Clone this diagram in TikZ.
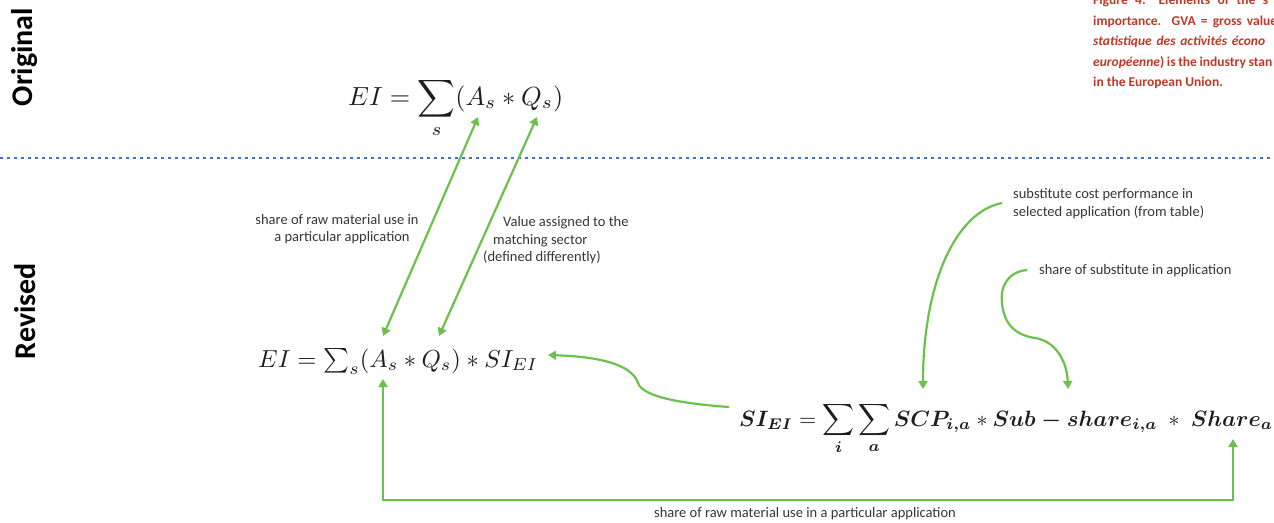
\documentclass[tikz,border=0pt]{standalone}
\usepackage{fontspec}
\setmainfont{Carlito}
\usepackage{amsmath}
\usepackage{graphicx}
\usetikzlibrary{arrows.meta}
\definecolor{arrowgreen}{RGB}{108,192,76}
\definecolor{dotblue}{RGB}{68,114,196}
\definecolor{capred}{RGB}{188,58,42}
\definecolor{labgray}{RGB}{55,55,55}
\definecolor{eqblack}{RGB}{30,30,30}
\tikzset{
  gline/.style={draw=arrowgreen, line width=2.2pt},
  tipA/.tip={Triangle[length=8pt,width=9pt]},
  lab/.style={font=\fontsize{14.5}{17}\selectfont, text=labgray, inner sep=0pt},
  captext/.style={font=\fontsize{13.5}{16}\selectfont\bfseries, text=capred, inner sep=0pt, anchor=base west},
  sidetext/.style={font=\fontsize{30}{32}\selectfont\bfseries, text=black, rotate=90, inner sep=0pt},
  eqtext/.style={text=eqblack, inner sep=0pt, anchor=base west}
}
\begin{document}
\begin{tikzpicture}[x=1pt,y=-1pt]
\useasboundingbox (0,0) rectangle (1274,522);
\fill[white] (0,0) rectangle (1274,522);
\clip (0,0) rectangle (1274,522);

% side labels
\node[sidetext] (orig) at (25,57) {Original};
\node[sidetext] (rev) at (25,311) {Revised};

% dotted separator
\coordinate (dl) at (0,158);
\coordinate (dr) at (1274,158);
\draw[dotblue, line width=2.8pt, dash pattern=on 2.8pt off 4.2pt] (dl) -- (dr);

% caption (clipped at right edge, as in the reference)
\node[captext] (c1) at (1093,4.5) {\makebox[175pt][s]{Figure 4: Elements of the s}};
\node[captext] (c2) at (1093,25) {\makebox[184pt][s]{importance. GVA = gross value}};
\node[captext] (c3) at (1093,45.5) {\makebox[172pt][s]{\itshape statistique des activités écono}};
\node[captext] (c4) at (1093,66) {\makebox[179pt][s]{\itshape européenne\upshape) is the industry stan}};
\node[captext] (c5) at (1093,86.5) {in the European Union.};

% equations
\node[eqtext] (eqo) at (348,105) {\resizebox{215pt}{!}{$\displaystyle EI = \sum_{s}(A_s \ast Q_s)$}};
\node[eqtext] (eqr) at (258,367) {\resizebox{280pt}{!}{$EI = \sum_{s}(A_s \ast Q_s) \ast SI_{EI}$}};
\node[eqtext] (eqs) at (739,426) {\resizebox{534pt}{!}{$\displaystyle \boldsymbol{SI_{EI}} = \sum_{\boldsymbol{i}}\sum_{\boldsymbol{a}}\boldsymbol{SCP_{i,a}} \ast \boldsymbol{Sub - share_{i,a}}\; \ast\; \boldsymbol{Share_{a}}$}};

% labels
\node[lab, anchor=base] (l1a) at (337,224) {share of raw material use in};
\node[lab, anchor=base] (l1b) at (342,241) {a particular application};
\node[lab, anchor=base west] (l2a) at (503,226) {Value assigned to the};
\node[lab, anchor=base west] (l2b) at (493,244) {matching sector};
\node[lab, anchor=base west] (l2c) at (483,261) {(defined differently)};
\node[lab, anchor=base west] (l3a) at (1013,198) {substitute cost performance in};
\node[lab, anchor=base west] (l3b) at (1013,216) {selected application (from table)};
\node[lab, anchor=base west] (l4) at (1039,274) {share of substitute in application};
\node[lab, anchor=base] (l5) at (805,517) {share of raw material use in a particular application};

% arrow end points
\coordinate (oA) at (478,117);
\coordinate (oQ) at (537,117);
\coordinate (rA) at (383,336);
\coordinate (rQ) at (439,336);
\coordinate (rSI) at (548,355);
\coordinate (sSI) at (729,407);
\coordinate (sSCP) at (923,389);
\coordinate (sSub) at (1068,389);
\coordinate (rAb) at (383,379);
\coordinate (sSh) at (1233,439);
\coordinate (l3s) at (1002,203);
\coordinate (l4s) at (1027,270);

% connectors
\draw[gline, tipA-tipA] (rA) -- (oA);
\draw[gline, tipA-tipA] (rQ) -- (oQ);
\draw[gline, -tipA] (sSI) .. controls (688,404) and (643,398) .. (638,383)
      .. controls (633,368) and (610,357) .. (rSI);
\draw[gline, -tipA] (l3s) .. controls (955,212) and (923,285) .. (sSCP);
\draw[gline, -tipA] (l4s) .. controls (1006,272) and (1000,289) .. (1002,303)
      .. controls (1004,324) and (1015,335) .. (1035,338)
      .. controls (1056,341) and (1067,362) .. (sSub);
\draw[gline, tipA-tipA] (rAb) -- (383,500) -- (1233,500) -- (sSh);
\end{tikzpicture}
\end{document}
